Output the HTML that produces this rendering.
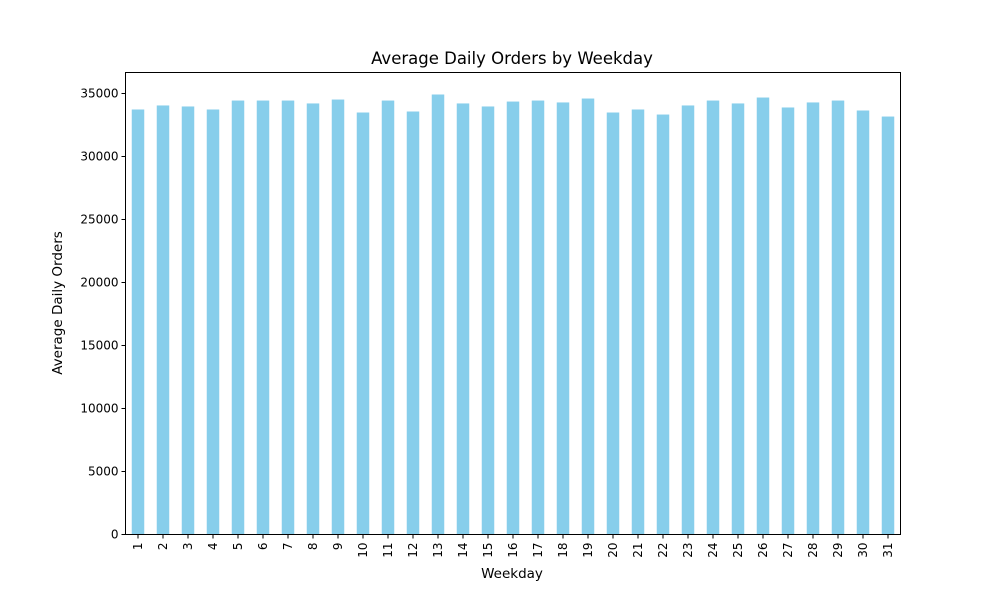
<!DOCTYPE html>
<html><head><meta charset="utf-8"><style>
body{margin:0;background:#fff;font-family:"Liberation Sans","DejaVu Sans",sans-serif;}
</style></head><body>
<svg id="chart" width="1000" height="600" xmlns="http://www.w3.org/2000/svg" font-family="DejaVu Sans, Liberation Sans, sans-serif">
<text x="512" y="64" text-anchor="middle" font-size="16.5">Average Daily Orders by Weekday</text>
<g id="bars"></g><g id="xticks"></g><g id="yticks"></g>
<rect x="125.5" y="72.5" width="775" height="462" fill="none" stroke="#000" stroke-width="1"/>
<text x="512" y="578" text-anchor="middle" font-size="13.5">Weekday</text>
<text transform="translate(62,303) rotate(-90)" text-anchor="middle" font-size="13.5">Average Daily Orders</text>
</svg>
<script>
const categories=["1","2","3","4","5","6","7","8","9","10","11","12","13","14","15","16","17","18","19","20","21","22","23","24","25","26","27","28","29","30","31"];
const values=[33730,34050,33970,33730,34440,34440,34440,34210,34520,33490,34440,33570,34920,34210,33970,34360,34440,34290,34600,33490,33730,33330,34050,34440,34210,34680,33890,34290,34440,33650,33170];
const yTicks=[0,5000,10000,15000,20000,25000,30000,35000];
const L=125.5,R=900.5,T=72.5,B=534.5;
const ymax=Math.max(...values)*1.05;
const y=v=>B-(v/ymax)*(B-T);
const step=(R-L)/categories.length;
const x=i=>L+step*(i+0.5);
const NS="http://www.w3.org/2000/svg";
const bars=document.getElementById('bars'),xt=document.getElementById('xticks'),yt=document.getElementById('yticks');
values.forEach((v,i)=>{
 const r=document.createElementNS(NS,'rect');
 
 
 r.setAttribute('x',x(i)-step/4);r.setAttribute('width',step/2);
 r.setAttribute('y',y(v));r.setAttribute('height',B-y(v));r.setAttribute('fill','#87ceeb');
 bars.appendChild(r);
});
categories.forEach((c,i)=>{
 const l=document.createElementNS(NS,'line');
 
 
 l.setAttribute('x1',x(i));l.setAttribute('x2',x(i));l.setAttribute('y1',B);l.setAttribute('y2',B+4);l.setAttribute('stroke','#000');
 xt.appendChild(l);
 const t=document.createElementNS(NS,'text');
 
 
 t.setAttribute('transform',`translate(${x(i)+4},${B+8}) rotate(-90)`);
 t.setAttribute('text-anchor','end');t.setAttribute('font-size','12');t.textContent=c;
 xt.appendChild(t);
});
yTicks.forEach(v=>{
 const l=document.createElementNS(NS,'line');
 
 
 l.setAttribute('x1',L-4);l.setAttribute('x2',L);l.setAttribute('y1',y(v));l.setAttribute('y2',y(v));l.setAttribute('stroke','#000');
 yt.appendChild(l);
 const t=document.createElementNS(NS,'text');
 
 
 t.setAttribute('x',L-7);t.setAttribute('y',y(v)+4);t.setAttribute('text-anchor','end');t.setAttribute('font-size','12');t.textContent=v;
 yt.appendChild(t);
});
</script>
</body></html>
